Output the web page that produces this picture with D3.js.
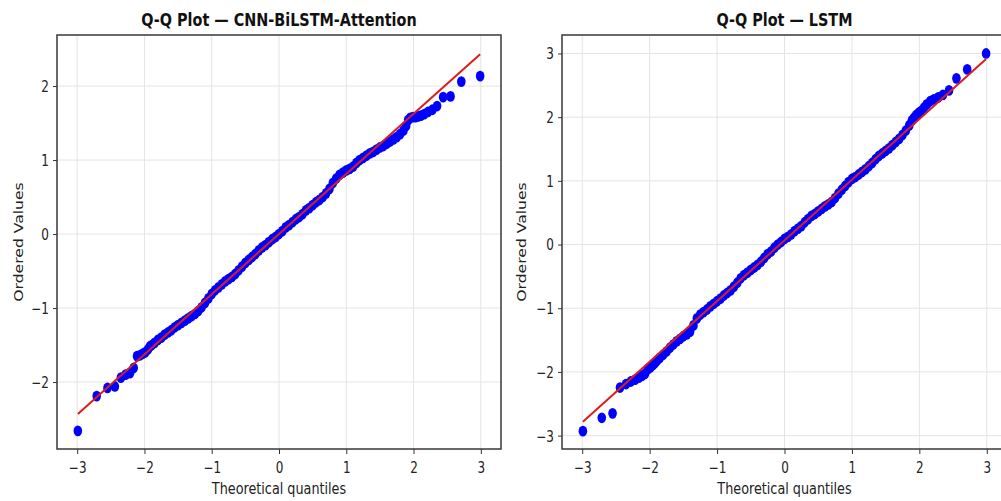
<!DOCTYPE html>
<html>
<head>
<meta charset="utf-8">
<script src="https://cdn.jsdelivr.net/npm/d3@7"></script>
<style>
  body { margin: 0; background: #fff; }
  svg { display: block; }
</style>
</head>
<body>
<svg id="chart" width="1001" height="501"></svg>
<script>
// theoretical quantiles (n = 500, sampled along the band), shared by both panels
var theoQ = [-2.99, -2.71, -2.55, -2.44, -2.35, -2.28, -2.215, -2.16, -2.11, -2.07, -2.03, -1.99, -1.95, -1.92, -1.89,
  -1.85, -1.80, -1.75, -1.70, -1.65, -1.60, -1.55, -1.50, -1.45, -1.40, -1.35, -1.30, -1.25, -1.20, -1.15, -1.10,
  -1.05, -1.00, -0.95, -0.90, -0.85, -0.80, -0.75, -0.70, -0.65, -0.60, -0.55, -0.50, -0.45, -0.40, -0.35, -0.30,
  -0.25, -0.20, -0.15, -0.10, -0.05, 0.00, 0.05, 0.10, 0.15, 0.20, 0.25, 0.30, 0.35, 0.40, 0.45, 0.50, 0.55, 0.60,
  0.65, 0.70, 0.75, 0.80, 0.85, 0.90, 0.95, 1.00, 1.05, 1.10, 1.15, 1.20, 1.25, 1.30, 1.35, 1.40, 1.45, 1.50, 1.55,
  1.60, 1.65, 1.70, 1.75, 1.80, 1.85,
  1.89, 1.92, 1.95, 1.99, 2.03, 2.07, 2.11, 2.16, 2.215, 2.28, 2.35, 2.44, 2.55, 2.71, 2.99];

var cnnVals = [-2.66, -2.19, -2.08, -2.06, -1.94, -1.90, -1.88, -1.81, -1.65, -1.64, -1.62, -1.60, -1.56, -1.52, -1.50,
  -1.47, -1.43, -1.40, -1.36, -1.33, -1.30, -1.26, -1.23, -1.20, -1.17, -1.14, -1.11, -1.08, -1.04, -0.99, -0.93,
  -0.87, -0.81, -0.76, -0.72, -0.68, -0.64, -0.61, -0.58, -0.54, -0.49, -0.44, -0.39, -0.35, -0.31, -0.27, -0.22,
  -0.18, -0.15, -0.11, -0.07, -0.04, 0.00, 0.04, 0.09, 0.12, 0.16, 0.20, 0.23, 0.27, 0.32, 0.35, 0.39, 0.43, 0.46,
  0.50, 0.55, 0.61, 0.69, 0.75, 0.80, 0.83, 0.86, 0.88, 0.91, 0.96, 1.00, 1.03, 1.06, 1.09, 1.11, 1.14, 1.17, 1.19,
  1.22, 1.25, 1.28, 1.31, 1.35, 1.40,
  1.46, 1.54, 1.57, 1.58, 1.58, 1.59, 1.60, 1.62, 1.65, 1.68, 1.73, 1.85, 1.86, 2.06, 2.135];

var lstmVals = [-2.93, -2.72, -2.65, -2.245, -2.19, -2.15, -2.12, -2.09, -2.06, -2.03, -1.96, -1.93, -1.89, -1.86, -1.82,
  -1.78, -1.73, -1.68, -1.62, -1.57, -1.52, -1.48, -1.44, -1.41, -1.37, -1.27, -1.16, -1.10, -1.06, -1.02, -0.97,
  -0.93, -0.89, -0.85, -0.80, -0.76, -0.72, -0.66, -0.60, -0.53, -0.48, -0.44, -0.40, -0.36, -0.32, -0.27, -0.21,
  -0.15, -0.11, -0.05, 0.00, 0.04, 0.09, 0.12, 0.16, 0.21, 0.25, 0.29, 0.35, 0.40, 0.45, 0.48, 0.52, 0.56, 0.60,
  0.63, 0.67, 0.73, 0.80, 0.86, 0.92, 0.98, 1.03, 1.06, 1.10, 1.14, 1.18, 1.23, 1.28, 1.34, 1.39, 1.43, 1.47, 1.51,
  1.56, 1.61, 1.66, 1.72, 1.79, 1.87,
  1.95, 1.99, 2.03, 2.07, 2.10, 2.15, 2.20, 2.25, 2.28, 2.31, 2.35, 2.42, 2.61, 2.75, 3.00];

// least squares fit [slope, intercept]
var cnnFit = [0.813, 0.0];
var lstmFit = [0.952, 0.065];

var xTicks = [-3, -2, -1, 0, 1, 2, 3];
var cnnYTicks = [-2, -1, 0, 1, 2];
var lstmYTicks = [-3, -2, -1, 0, 1, 2, 3];
var titles = ['Q-Q Plot \u2014 CNN-BiLSTM-Attention', 'Q-Q Plot \u2014 LSTM'];
var xLabel = 'Theoretical quantiles';
var yLabel = 'Ordered Values';

var STRETCH = 1.25; // picture is taller than wide
var FONT = 'DejaVu Sans, Verdana, sans-serif';
var svg = d3.select('#chart');

function drawPanel(box, title, vals, fit, yTicks, yDomain, yLabelX) {
  var x = d3.scaleLinear().domain([-3.3, 3.3]).range([box.left, box.right]);
  var y = d3.scaleLinear().domain(yDomain).range([box.bottom, box.top]);
  var g = svg.append('g');

  // grid
  g.selectAll('.gx').data(xTicks).enter().append('line')
    .attr('x1', function(d) { return x(d); }).attr('x2', function(d) { return x(d); })
    .attr('y1', box.top).attr('y2', box.bottom)
    .attr('stroke', '#e4e4e4').attr('stroke-width', 1);
  g.selectAll('.gy').data(yTicks).enter().append('line')
    .attr('y1', function(d) { return y(d); }).attr('y2', function(d) { return y(d); })
    .attr('x1', box.left).attr('x2', box.right)
    .attr('stroke', '#e4e4e4').attr('stroke-width', 1);

  // points
  var pts = theoQ.map(function(t, i) { return { t: t, v: vals[i] }; });
  g.selectAll('.pt').data(pts).enter().append('ellipse')
    .attr('cx', function(d) { return x(d.t); })
    .attr('cy', function(d) { return y(d.v); })
    .attr('rx', 4.3).attr('ry', 5.4)
    .attr('fill', '#0000ff');

  // fitted line
  var ext = d3.extent(theoQ);
  g.append('line')
    .attr('x1', x(ext[0])).attr('y1', y(fit[0] * ext[0] + fit[1]))
    .attr('x2', x(ext[1])).attr('y2', y(fit[0] * ext[1] + fit[1]))
    .attr('stroke', '#dd1c1c').attr('stroke-width', 2);

  // axes
  var ax = g.append('g')
    .attr('transform', 'translate(0,' + box.bottom + ')')
    .call(d3.axisBottom(x).tickValues(xTicks).tickSize(5).tickFormat(d3.format('d')));
  ax.select('.domain').remove();
  ax.attr('font-size', 12).attr('font-family', FONT);
  ax.selectAll('line').attr('stroke', '#333');
  ax.selectAll('text').attr('y', null).attr('dy', null).attr('fill', '#222')
    .attr('transform', 'translate(0,24) scale(1,' + STRETCH + ')');

  var ay = g.append('g')
    .attr('transform', 'translate(' + box.left + ',0)')
    .call(d3.axisLeft(y).tickValues(yTicks).tickSize(4).tickFormat(d3.format('d')));
  ay.select('.domain').remove();
  ay.attr('font-size', 12).attr('font-family', FONT);
  ay.selectAll('line').attr('stroke', '#333');
  ay.selectAll('text').attr('x', null).attr('dy', null).attr('fill', '#222')
    .attr('transform', 'translate(-8,5.4) scale(1,' + STRETCH + ')');

  // frame
  g.append('rect')
    .attr('x', box.left).attr('y', box.top)
    .attr('width', box.right - box.left).attr('height', box.bottom - box.top)
    .attr('fill', 'none').attr('stroke', '#383838').attr('stroke-width', 1.5);

  var cx = (box.left + box.right) / 2;
  g.append('text')
    .attr('transform', 'translate(' + cx + ',26) scale(1,' + STRETCH + ')')
    .attr('text-anchor', 'middle').attr('font-family', FONT)
    .attr('font-weight', 'bold').attr('font-size', 14.4).attr('fill', '#111')
    .text(title);
  g.append('text')
    .attr('transform', 'translate(' + cx + ',494) scale(1,' + STRETCH + ')')
    .attr('text-anchor', 'middle').attr('font-family', FONT)
    .attr('font-size', 12.8).attr('fill', '#222')
    .text(xLabel);
  g.append('text')
    .attr('transform', 'translate(' + yLabelX + ',' + ((box.top + box.bottom) / 2) + ') rotate(-90) scale(' + STRETCH + ',1)')
    .attr('text-anchor', 'middle').attr('font-family', FONT)
    .attr('font-size', 12.5).attr('fill', '#222')
    .text(yLabel);
}

drawPanel({ left: 57, right: 501, top: 35, bottom: 449 }, titles[0], cnnVals, cnnFit, cnnYTicks, [-2.905, 2.69], 23);
drawPanel({ left: 562, right: 1007, top: 35, bottom: 449 }, titles[1], lstmVals, lstmFit, lstmYTicks, [-3.21, 3.29], 526);
</script>
</body>
</html>
